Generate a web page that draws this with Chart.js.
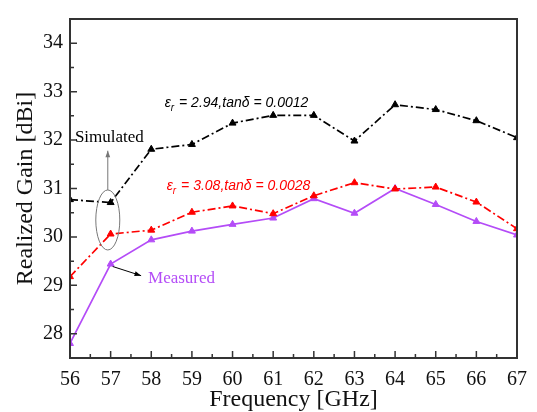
<!DOCTYPE html>
<html>
<head>
<meta charset="utf-8">
<script src="https://cdn.jsdelivr.net/npm/chart.js@4/dist/chart.umd.min.js"></script>
<style>
  html, body { margin: 0; padding: 0; background: #fff; }
  canvas { display: block; }
</style>
</head>
<body>
<canvas id="gain" width="537" height="412"></canvas>
<script>
// frecuencias (GHz) y ganancias (dBi)
const frequencies = [56, 57, 58, 59, 60, 61, 62, 63, 64, 65, 66, 67];
const simulated294 = [30.77, 30.71, 31.81, 31.91, 32.35, 32.51, 32.51, 31.98, 32.73, 32.63, 32.40, 32.05];
const simulated308 = [29.18, 30.06, 30.14, 30.51, 30.64, 30.48, 30.85, 31.12, 30.99, 31.03, 30.72, 30.17];
const measured = [27.80, 29.44, 29.94, 30.12, 30.26, 30.39, 30.79, 30.49, 31.00, 30.67, 30.32, 30.04];
const yTickValues = [28, 29, 30, 31, 32, 33, 34];
const xTickValues = frequencies;

const PURPLE = '#b44cf7';
const SERIF = '"Liberation Serif", "DejaVu Serif", serif';
const SANS = '"Liberation Sans", Arial, sans-serif';

const toPoints = (vals) => frequencies.map((f, i) => ({ x: f, y: vals[i] }));

// marco completo y marcas hacia dentro (mayores y menores)
const frameTicks = {
    id: 'frameTicks',
    afterDraw(chart) {
        const { ctx, chartArea: a, scales } = chart;
        ctx.save();
        ctx.strokeStyle = '#333';
        ctx.lineWidth = 2;
        ctx.strokeRect(a.left, a.top, a.right - a.left, a.bottom - a.top);
        ctx.lineWidth = 1.5;
        ctx.beginPath();
        for (let v = 56; v <= 67.001; v += 0.5) {
            const px = scales.x.getPixelForValue(v);
            const len = Number.isInteger(v) ? 7 : 4;
            ctx.moveTo(px, a.bottom);
            ctx.lineTo(px, a.bottom - len);
        }
        for (let v = 28; v <= 34.501; v += 0.5) {
            const py = scales.y.getPixelForValue(v);
            const len = Number.isInteger(v) ? 7 : 4;
            ctx.moveTo(a.left, py);
            ctx.lineTo(a.left + len, py);
        }
        ctx.stroke();
        ctx.restore();
    }
};

function arrow(ctx, x1, y1, x2, y2, color) {
    const ang = Math.atan2(y2 - y1, x2 - x1);
    ctx.strokeStyle = color;
    ctx.fillStyle = color;
    ctx.lineWidth = 1;
    ctx.beginPath();
    ctx.moveTo(x1, y1);
    ctx.lineTo(x2, y2);
    ctx.stroke();
    ctx.beginPath();
    ctx.moveTo(x2, y2);
    ctx.lineTo(x2 - 7 * Math.cos(ang - 0.35), y2 - 7 * Math.sin(ang - 0.35));
    ctx.lineTo(x2 - 7 * Math.cos(ang + 0.35), y2 - 7 * Math.sin(ang + 0.35));
    ctx.closePath();
    ctx.fill();
}

function epsLabel(ctx, x, y, rest, color) {
    ctx.fillStyle = color;
    ctx.textBaseline = 'middle';
    ctx.textAlign = 'left';
    ctx.font = 'italic 14px ' + SANS;
    ctx.fillText('\u03b5', x, y);
    let w = ctx.measureText('\u03b5').width;
    ctx.font = 'italic 10px ' + SANS;
    ctx.fillText('r', x + w, y + 5);
    w += ctx.measureText('r').width + 1;
    ctx.font = 'italic 14px ' + SANS;
    ctx.fillText(rest, x + w, y);
}

const annotations = {
    id: 'annotations',
    afterDraw(chart) {
        const { ctx, scales: { x, y } } = chart;
        ctx.save();
        epsLabel(ctx, x.getPixelForValue(58.33), y.getPixelForValue(32.76), ' = 2.94,tan\u03b4 = 0.0012', '#000');
        epsLabel(ctx, x.getPixelForValue(58.38), y.getPixelForValue(31.05), ' = 3.08,tan\u03b4 = 0.0028', '#ff0000');

        // elipse y flecha de "Simulated"
        const ex = x.getPixelForValue(56.93), ey = y.getPixelForValue(30.35);
        ctx.strokeStyle = '#777';
        ctx.lineWidth = 1;
        ctx.beginPath();
        ctx.ellipse(ex, ey, 12, 30, 0, 0, Math.PI * 2);
        ctx.stroke();
        arrow(ctx, ex, ey - 30, ex, y.getPixelForValue(31.78), '#777');

        ctx.font = '17px ' + SERIF;
        ctx.textBaseline = 'middle';
        ctx.textAlign = 'left';
        ctx.fillStyle = '#000';
        ctx.fillText('Simulated', x.getPixelForValue(56.12), y.getPixelForValue(32.05));

        arrow(ctx, x.getPixelForValue(57.05), y.getPixelForValue(29.39),
              x.getPixelForValue(57.75), y.getPixelForValue(29.2), '#000');
        ctx.fillStyle = PURPLE;
        ctx.fillText('Measured', x.getPixelForValue(57.92), y.getPixelForValue(29.15));
        ctx.restore();
    }
};

const dataset = (label, vals, color, dash) => ({
    label,
    data: toPoints(vals),
    borderColor: color,
    backgroundColor: color,
    borderWidth: 1.7,
    borderDash: dash,
    pointStyle: 'triangle',
    pointRadius: 4,
    pointBorderWidth: 1,
    tension: 0
});

new Chart(document.getElementById('gain'), {
    type: 'line',
    data: {
        datasets: [
            dataset('\u03b5r = 2.94', simulated294, '#000', [8, 3, 2, 3]),
            dataset('\u03b5r = 3.08', simulated308, '#ff0000', [8, 3, 2, 3]),
            dataset('Measured', measured, PURPLE, [])
        ]
    },
    options: {
        responsive: false,
        animation: false,
        layout: { padding: { top: 11, right: 18, left: 0, bottom: 0 } },
        plugins: { legend: { display: false }, tooltip: { enabled: false } },
        scales: {
            x: {
                type: 'linear',
                min: 56,
                max: 67,
                afterBuildTicks: (s) => { s.ticks = xTickValues.map(v => ({ value: v })); },
                afterFit: (s) => { s.height = 54; },
                grid: { display: false, drawTicks: false },
                border: { display: false },
                ticks: { color: '#111', padding: 10, font: { family: SERIF, size: 20 }, maxRotation: 0 },
                title: { display: true, text: 'Frequency [GHz]', color: '#111', padding: { top: 0, bottom: -2 }, font: { family: SERIF, size: 24 } }
            },
            y: {
                min: 27.5,
                max: 34.5,
                afterBuildTicks: (s) => { s.ticks = yTickValues.map(v => ({ value: v })); },
                afterFit: (s) => { s.width = 70; },
                grid: { display: false, drawTicks: false },
                border: { display: false },
                ticks: { color: '#111', padding: 7, font: { family: SERIF, size: 20 } },
                title: { display: true, text: 'Realized Gain [dBi]', color: '#111', padding: { top: 11, bottom: 0 }, font: { family: SERIF, size: 24 } }
            }
        }
    },
    plugins: [frameTicks, annotations]
});
</script>
</body>
</html>
